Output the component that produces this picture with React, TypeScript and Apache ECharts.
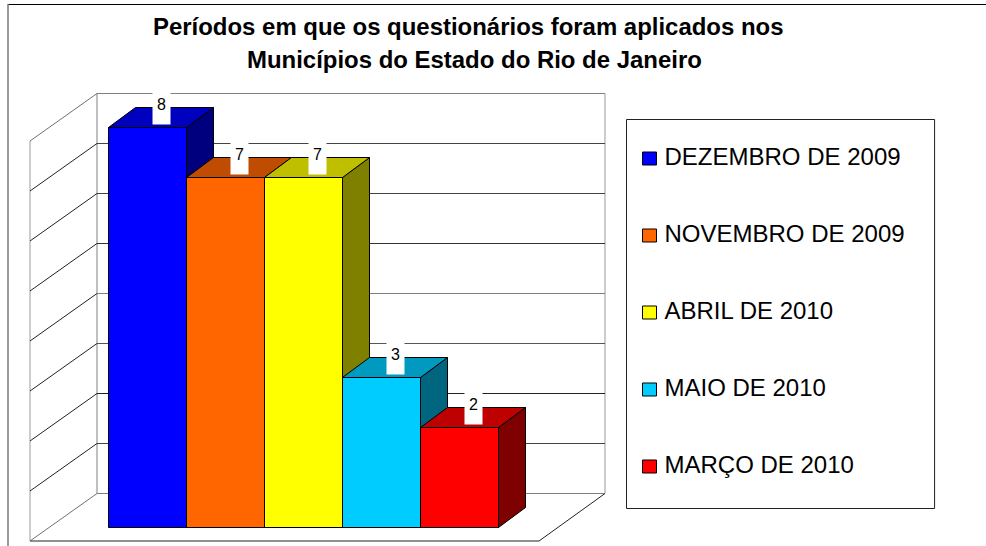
import React, { useEffect, useRef } from "react";
import * as echarts from "echarts";

const titleLines = [
  "Períodos em que os questionários foram aplicados nos",
  "Municípios do Estado do Rio de Janeiro",
];
const categories = ["DEZEMBRO DE 2009", "NOVEMBRO DE 2009", "ABRIL DE 2010", "MAIO DE 2010", "MARÇO DE 2010"];
const values = [8, 7, 7, 3, 2];
const frontColors = ["#0000FF", "#FF6600", "#FFFF00", "#00CCFF", "#FF0000"];
const topColors = ["#0000BF", "#BF4C00", "#BFBF00", "#0099BF", "#BF0000"];
const sideColors = ["#00007F", "#7F3300", "#7F7F00", "#00667F", "#7F0000"];
const wallTicks = [0, 1, 2, 3, 4, 5, 6, 7, 8];
const backLineColors = ["#808080", "#444444", "#222222", "#555555", "#808080", "#333333", "#444444", "#444444", "#808080"];

const DEPTH_X = 27;
const DEPTH_Y = -20;
const WALL_X = -67;
const WALL_Y = 47.5;
const font = "'Liberation Sans', Arial, sans-serif";

function renderWall(_p: any, api: any) {
  const tick = api.value(0);
  const [bx0, by] = api.coord([0, tick]);
  const [bx1] = api.coord([1, tick]);
  const lineColor = backLineColors[tick];
  const children: any[] = [
    { type: "line", shape: { x1: bx0, y1: by, x2: bx1, y2: by }, style: { stroke: lineColor, lineWidth: 1 } },
    {
      type: "line",
      shape: { x1: bx0, y1: by, x2: bx0 + WALL_X, y2: by + WALL_Y },
      style: { stroke: tick === 0 || tick === 8 ? "#707070" : "#222222", lineWidth: 1 },
    },
  ];
  if (tick === 0) {
    const [, topY] = api.coord([0, 8]);
    const fx0 = bx0 + WALL_X;
    const fx1 = bx1 + WALL_X + 1;
    const fy = by + WALL_Y;
    children.push(
      { type: "line", shape: { x1: fx0, y1: fy, x2: fx1, y2: fy }, style: { stroke: "#222222", lineWidth: 1 } },
      { type: "line", shape: { x1: fx1, y1: fy, x2: bx1, y2: by }, style: { stroke: "#222222", lineWidth: 1 } },
      { type: "line", shape: { x1: bx0, y1: topY, x2: bx0, y2: by }, style: { stroke: "#808080", lineWidth: 1 } },
      { type: "line", shape: { x1: bx1, y1: topY, x2: bx1, y2: by }, style: { stroke: "#999999", lineWidth: 1 } },
      { type: "line", shape: { x1: fx0, y1: topY + WALL_Y, x2: fx0, y2: fy }, style: { stroke: "#999999", lineWidth: 1 } }
    );
  }
  return { type: "group", children };
}

function makeBarRenderer(index: number) {
  return (_p: any, api: any) => {
    const cat = api.value(0);
    const val = api.value(1);
    const [cx, yTop] = api.coord([cat, val]);
    const [, yBase] = api.coord([cat, 0]);
    const w = api.size([1, 0])[0];
    const x0 = cx - w / 2;
    const x1 = cx + w / 2;
    const edge = { stroke: "#000000", lineWidth: 1, lineJoin: "round" };
    const labelX = cx + DEPTH_X / 2 + 0.5;
    const boxTop = yTop - 35.5;
    return {
      type: "group",
      children: [
        {
          type: "polygon",
          shape: { points: [[x1, yTop], [x1 + DEPTH_X, yTop + DEPTH_Y], [x1 + DEPTH_X, yBase + DEPTH_Y], [x1, yBase]] },
          style: { fill: sideColors[index], ...edge },
        },
        {
          type: "polygon",
          shape: { points: [[x0, yTop], [x0 + DEPTH_X, yTop + DEPTH_Y], [x1 + DEPTH_X, yTop + DEPTH_Y], [x1, yTop]] },
          style: { fill: topColors[index], ...edge },
        },
        {
          type: "rect",
          shape: { x: x0, y: yTop, width: w, height: yBase - yTop },
          style: { fill: frontColors[index], ...edge },
        },
        { type: "rect", shape: { x: labelX - 9, y: boxTop, width: 18, height: 32.5 }, style: { fill: "#FFFFFF" } },
        {
          type: "text",
          x: labelX,
          y: boxTop + 12.5,
          style: {
            text: String(val),
            fill: "#000000",
            font: `16px ${font}`,
            align: "center",
            verticalAlign: "middle",
          },
        },
      ],
    };
  };
}

export default function App() {
  const ref = useRef<HTMLDivElement>(null);
  useEffect(() => {
    const chart = echarts.init(ref.current!, null, { renderer: "svg" });
    chart.setOption({
      animation: false,
      backgroundColor: "#FFFFFF",
      title: [
        { text: titleLines[0], left: 153, top: 14, padding: 0, textStyle: { fontFamily: font, fontWeight: "bold", fontSize: 23.95, color: "#000" } },
        { text: titleLines[1], left: 247, top: 47, padding: 0, textStyle: { fontFamily: font, fontWeight: "bold", fontSize: 23.95, color: "#000" } },
      ],
      legend: {
        orient: "vertical",
        left: 626.5,
        top: 119.5,
        padding: [24.5, 30, 27.5, 15.5],
        itemGap: 48,
        itemWidth: 14,
        itemHeight: 13,
        icon: "rect",
        borderColor: "#222222",
        borderWidth: 1,
        selectedMode: false,
        data: categories,
        itemStyle: { borderColor: "#000000", borderWidth: 1 },
        formatter: (name: string) => `{a|${name}}`,
        textStyle: {
          fontFamily: font,
          fontSize: 24,
          color: "#000",
          rich: { a: { fontFamily: font, fontSize: 24, color: "#000", lineHeight: 25, padding: [0, 0, 5, 3] } },
        },
      },
      grid: [
        { left: 97, top: 93.5, width: 508, height: 400 },
        { left: 108.5, top: 127.5, width: 390, height: 400 },
      ],
      xAxis: [
        { type: "value", gridIndex: 0, min: 0, max: 1, show: false },
        { type: "category", gridIndex: 1, data: categories, show: false },
      ],
      yAxis: [
        { type: "value", gridIndex: 0, min: 0, max: 8, interval: 1, show: false },
        { type: "value", gridIndex: 1, min: 0, max: 8, interval: 1, show: false },
      ],
      graphic: [
        { type: "line", shape: { x1: 8, y1: 4.5, x2: 986, y2: 4.5 }, style: { stroke: "#000", lineWidth: 1 } },
        { type: "line", shape: { x1: 8, y1: 4, x2: 8, y2: 546 }, style: { stroke: "#777", lineWidth: 1.5 } },
      ],
      series: [
        {
          type: "custom",
          silent: true,
          xAxisIndex: 0,
          yAxisIndex: 0,
          renderItem: renderWall,
          data: wallTicks.map((t) => [t]),
          encode: { y: 0 },
          clip: false,
        },
        ...categories.map((name, i) => ({
          type: "custom",
          name,
          silent: true,
          xAxisIndex: 1,
          yAxisIndex: 1,
          itemStyle: { color: frontColors[i] },
          renderItem: makeBarRenderer(i),
          data: [[i, values[i]]],
          encode: { x: 0, y: 1 },
          clip: false,
        })),
      ],
    });
    return () => chart.dispose();
  }, []);
  return <div ref={ref} style={{ position: "absolute", left: 0, top: 0, width: 986, height: 546 }} />;
}
